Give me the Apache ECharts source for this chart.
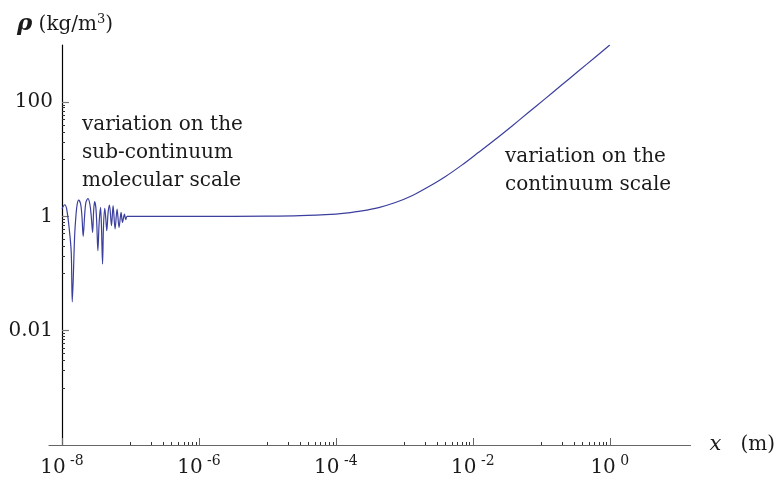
<!DOCTYPE html>
<html>
<head>
<meta charset="utf-8">
<script src="https://cdn.jsdelivr.net/npm/echarts@6/dist/echarts.min.js"></script>
<style>
html, body { margin: 0; padding: 0; background: #fff; }
#chart { width: 778px; height: 480px; }
</style>
</head>
<body>
<div id="chart"></div>
<script>
// Position x (m) and density rho (kg/m^3) along the profile
const xPos = [
  1.00e-8, 1.095e-8, 1.17e-8, 1.277e-8, 1.365e-8, 1.412e-8, 1.53e-8, 1.598e-8,
  1.669e-8, 1.75e-8, 1.87e-8, 1.954e-8, 2.04e-8, 2.14e-8, 2.234e-8, 2.39e-8,
  2.55e-8, 2.67e-8, 2.80e-8, 2.89e-8, 2.99e-8, 3.12e-8, 3.23e-8, 3.34e-8,
  3.49e-8, 3.66e-8, 3.78e-8, 3.91e-8, 4.04e-8, 4.22e-8, 4.365e-8, 4.51e-8,
  4.716e-8, 4.94e-8, 5.28e-8, 5.575e-8, 5.96e-8, 6.37e-8, 6.815e-8, 7.29e-8,
  7.64e-8, 8.17e-8, 8.53e-8, 8.91e-8,
  1e-7, 1e-6, 1e-5, 3e-5, 1e-4, 1.38e-4, 2.4e-4, 4.22e-4, 7.4e-4, 1.29e-3,
  2.25e-3, 3.94e-3, 6.9e-3, 1.2e-2, 2.1e-2, 3.67e-2, 6.4e-2, 0.112, 0.196,
  0.342, 0.6, 1.0
];
const rho = [
  1.36, 1.60, 1.35, 0.60, 0.234, 0.032, 0.46, 1.03,
  1.65, 1.94, 1.65, 1.03, 0.447, 1.03, 1.76, 2.06,
  1.65, 1.03, 0.525, 1.175, 1.81, 1.44, 0.688, 0.251,
  0.785, 1.44, 0.602, 0.147, 0.688, 1.38, 0.90, 0.562,
  1.175, 1.58, 0.688, 1.54, 0.602, 1.35, 0.642, 1.175,
  0.785, 1.10, 0.876, 1.0,
  1.0, 1.0, 1.01, 1.03, 1.1, 1.14, 1.25, 1.43, 1.75, 2.3,
  3.3, 4.95, 7.9, 13.1, 22, 37.6, 65, 113, 197,
  343, 600, 1000
];

// Labelled decades on each axis
const xMajor = [1e-8, 1e-6, 1e-4, 1e-2, 1];
const yMajor = [0.01, 1, 100];
// Decades that carry the small 1..9 sub-ticks
const xMinorDecades = [1e-7, 1e-5, 1e-3, 1e-1];
const yMinorDecades = [1e-3, 1e-1, 10];
const subSteps = [1, 2, 3, 4, 5, 6, 7, 8, 9];

const xMinor = [];
xMinorDecades.forEach(d => subSteps.forEach(k => xMinor.push(k * d)));
const yMinor = [];
yMinorDecades.forEach(d => subSteps.forEach(k => yMinor.push(k * d)));

const X_MIN = 6.46e-9, X_MAX = 15.1;
const Y_MIN = 1e-4, Y_MAX = 1000;

const FONT = 'DejaVu Serif';
const TEXT = '#1a1a1a';

const chart = echarts.init(document.getElementById('chart'), null, { renderer: 'canvas' });

chart.setOption({
  animation: false,
  backgroundColor: '#fff',
  grid: { left: 49, right: 85, top: 45, bottom: 35, containLabel: false },
  xAxis: [
    {
      type: 'log', logBase: 10, min: X_MIN, max: X_MAX, position: 'bottom',
      axisLine: { show: true, lineStyle: { color: '#666', width: 1.2 } },
      axisTick: { show: true, inside: true, length: 7, customValues: xMajor,
                  lineStyle: { color: '#666', width: 1 } },
      axisLabel: {
        customValues: xMajor, margin: 9,
        formatter: v => '{b|10}{s| ' + Math.round(Math.log10(v)) + '}',
        rich: {
          b: { fontFamily: FONT, fontSize: 20, color: TEXT, verticalAlign: 'bottom', lineHeight: 24 },
          s: { fontFamily: FONT, fontSize: 14, color: TEXT, verticalAlign: 'top', padding: [0, 0, 10, 0], lineHeight: 24 }
        }
      },
      splitLine: { show: false },
      name: '{i|x}   (m)', nameLocation: 'end', nameGap: 19,
      nameTextStyle: {
        fontFamily: FONT, fontSize: 20, color: TEXT,
        rich: { i: { fontFamily: FONT, fontSize: 21, fontStyle: 'italic', color: TEXT } }
      }
    },
    {
      type: 'log', logBase: 10, min: X_MIN, max: X_MAX, position: 'bottom',
      axisLine: { show: false },
      axisTick: { show: true, inside: true, length: 3, customValues: xMinor,
                  lineStyle: { color: '#333', width: 1 } },
      axisLabel: { show: false },
      splitLine: { show: false }
    }
  ],
  yAxis: [
    {
      type: 'log', logBase: 10, min: Y_MIN, max: Y_MAX, position: 'left', offset: -13,
      axisLine: { show: true, lineStyle: { color: '#000', width: 1.2 } },
      axisTick: { show: true, inside: true, length: 7, customValues: yMajor,
                  lineStyle: { color: '#777', width: 1.2 } },
      axisLabel: {
        customValues: yMajor, margin: 9,
        fontFamily: FONT, fontSize: 20, color: TEXT,
        formatter: v => (v >= 1 ? String(Math.round(v)) : String(v))
      },
      splitLine: { show: false },
      name: '{r|ρ} (kg/m{s|3})', nameLocation: 'end', nameGap: 9,
      nameTextStyle: {
        fontFamily: FONT, fontSize: 20, color: TEXT, padding: [0, 0, 0, 6],
        rich: {
          r: { fontFamily: FONT, fontSize: 23, fontStyle: 'italic', fontWeight: 'bold', color: TEXT },
          s: { fontFamily: FONT, fontSize: 13, color: TEXT, verticalAlign: 'top', padding: [0, 0, 8, 0] }
        }
      }
    },
    {
      type: 'log', logBase: 10, min: Y_MIN, max: Y_MAX, position: 'left', offset: -13,
      axisLine: { show: false },
      axisTick: { show: true, inside: true, length: 3, customValues: yMinor,
                  lineStyle: { color: '#333', width: 1 } },
      axisLabel: { show: false },
      splitLine: { show: false }
    }
  ],
  graphic: [
    {
      type: 'text', left: 82, top: 111,
      style: { text: 'variation on the\nsub-continuum\nmolecular scale',
               font: '20px "DejaVu Serif"', lineHeight: 28, fill: TEXT }
    },
    {
      type: 'text', left: 505, top: 143,
      style: { text: 'variation on the\ncontinuum scale',
               font: '20px "DejaVu Serif"', lineHeight: 28, fill: TEXT }
    }
  ],
  series: [
    {
      type: 'line', xAxisIndex: 0, yAxisIndex: 0,
      data: xPos.map((x, i) => [x, rho[i]]),
      showSymbol: false, smooth: 0.3,
      lineStyle: { color: '#3b3f9d', width: 1.2 }
    }
  ]
});
</script>
</body>
</html>
